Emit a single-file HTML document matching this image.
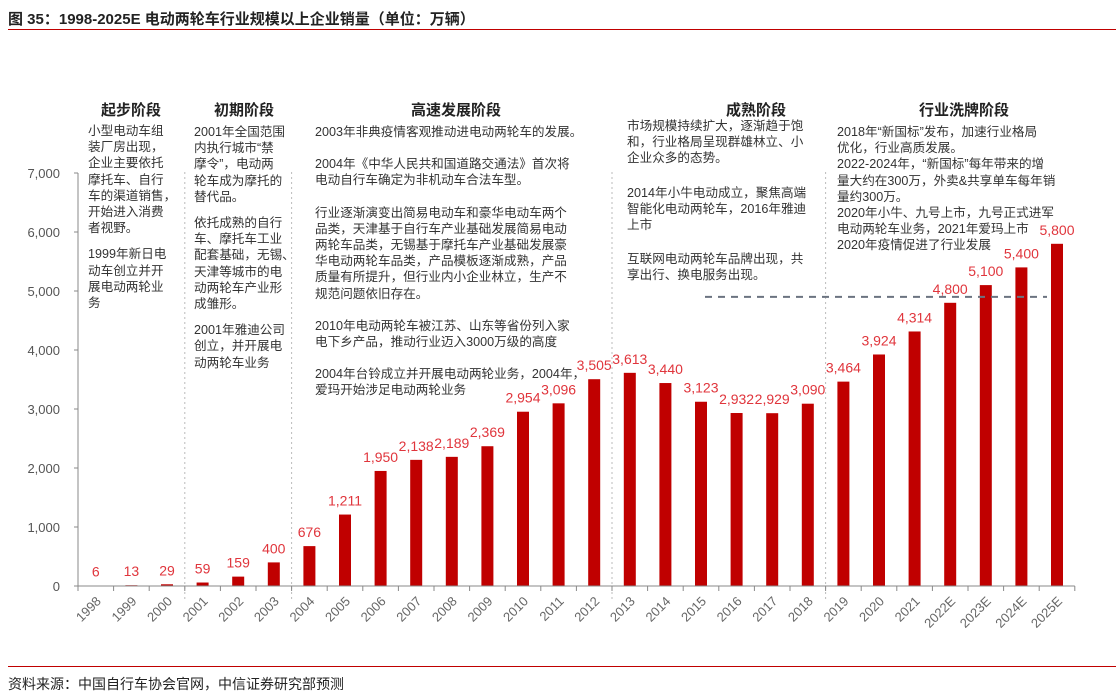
<!DOCTYPE html>
<html><head><meta charset="utf-8"><style>
body{margin:0;width:1116px;height:695px;background:#fff;position:relative;overflow:hidden;font-family:"Liberation Sans","Noto Sans CJK SC",sans-serif;}
.t{position:absolute;font-size:12.6px;line-height:16.2px;color:#333;white-space:nowrap;}
.t p{margin:0 0 10px 0}
.h{position:absolute;font-size:15px;font-weight:bold;color:#222;transform:translateX(-50%);white-space:nowrap}
</style></head><body>
<div style="position:absolute;left:8px;top:8px;font-size:15px;font-weight:bold;color:#222;">图 35：1998-2025E 电动两轮车行业规模以上企业销量（单位：万辆）</div>
<div style="position:absolute;left:8px;top:29px;width:1108px;height:1px;background:#c00000"></div>
<svg id="chart" width="1116" height="660" style="position:absolute;left:0;top:0"></svg>

<div class="h" style="left:131px;top:99px">起步阶段</div>
<div class="h" style="left:244px;top:99px">初期阶段</div>
<div class="h" style="left:456px;top:99px">高速发展阶段</div>
<div class="h" style="left:756px;top:99px">成熟阶段</div>
<div class="h" style="left:964px;top:99px">行业洗牌阶段</div>

<div class="t" style="left:88px;top:123px"><p>小型电动车组<br>装厂房出现，<br>企业主要依托<br>摩托车、自行<br>车的渠道销售，<br>开始进入消费<br>者视野。</p><p>1999年新日电<br>动车创立并开<br>展电动两轮业<br>务</p></div>
<div class="t" style="left:194px;top:124px"><p>2001年全国范围<br>内执行城市“禁<br>摩令”，电动两<br>轮车成为摩托的<br>替代品。</p><p>依托成熟的自行<br>车、摩托车工业<br>配套基础，无锡、<br>天津等城市的电<br>动两轮车产业形<br>成雏形。</p><p>2001年雅迪公司<br>创立，并开展电<br>动两轮车业务</p></div>
<div class="t" style="left:315px;top:124px"><p style="margin-bottom:16px">2003年非典疫情客观推动进电动两轮车的发展。</p><p style="margin-bottom:16px">2004年《中华人民共和国道路交通法》首次将<br>电动自行车确定为非机动车合法车型。</p><p style="margin-bottom:16px">行业逐渐演变出简易电动车和豪华电动车两个<br>品类，天津基于自行车产业基础发展简易电动<br>两轮车品类，无锡基于摩托车产业基础发展豪<br>华电动两轮车品类，产品模板逐渐成熟，产品<br>质量有所提升，但行业内小企业林立，生产不<br>规范问题依旧存在。</p><p style="margin-bottom:16px">2010年电动两轮车被江苏、山东等省份列入家<br>电下乡产品，推动行业迈入3000万级的高度</p><p>2004年台铃成立并开展电动两轮业务，2004年，<br>爱玛开始涉足电动两轮业务</p></div>
<div class="t" style="left:627px;top:118px"><p style="margin-bottom:18px">市场规模持续扩大，逐渐趋于饱<br>和，行业格局呈现群雄林立、小<br>企业众多的态势。</p><p style="margin-bottom:18px">2014年小牛电动成立，聚焦高端<br>智能化电动两轮车，2016年雅迪<br>上市</p><p>互联网电动两轮车品牌出现，共<br>享出行、换电服务出现。</p></div>
<div class="t" style="left:837px;top:124px"><p style="margin:0">2018年“新国标”发布，加速行业格局<br>优化，行业高质发展。<br>2022-2024年，“新国标”每年带来的增<br>量大约在300万，外卖&amp;共享单车每年销<br>量约300万。<br>2020年小牛、九号上市，九号正式进军<br>电动两轮车业务，2021年爱玛上市<br>2020年疫情促进了行业发展</p></div>

<div style="position:absolute;left:8px;top:666px;width:1108px;height:1px;background:#c00000"></div>
<div style="position:absolute;left:8px;top:674px;font-size:14px;color:#222">资料来源：中国自行车协会官网，中信证券研究部预测</div>

<script>
const categories=["1998","1999","2000","2001","2002","2003","2004","2005","2006","2007","2008","2009","2010","2011","2012","2013","2014","2015","2016","2017","2018","2019","2020","2021","2022E","2023E","2024E","2025E"];
const salesValues=[6,13,29,59,159,400,676,1211,1950,2138,2189,2369,2954,3096,3505,3613,3440,3123,2932,2929,3090,3464,3924,4314,4800,5100,5400,5800];
const yTicks=[0,1000,2000,3000,4000,5000,6000,7000];
const yTickLabels=["0","1,000","2,000","3,000","4,000","5,000","6,000","7,000"];
const stageBoundaries=[3,6,15,21];
const referenceLevel=4900;

const svg=document.getElementById('chart');
const NS='http://www.w3.org/2000/svg';
const x0=78,band=35.6,y0=586,pxPer=413/7000,bw=12;
const xs=i=>x0+band*i+band/2;
const ys=v=>y0-v*pxPer;
function mk(t,a){const e=document.createElementNS(NS,t);for(const k in a)e.setAttribute(k,a[k]);svg.appendChild(e);return e;}

yTicks.forEach((v,i)=>{
  const tx=mk('text',{x:60,y:ys(v)+5,'text-anchor':'end','font-size':'13','fill':'#555'});
  
  
  tx.textContent=yTickLabels[i];
  const tk=mk('line',{x1:74,x2:78,y1:ys(v),y2:ys(v),stroke:'#888'});
  
  
});
const ya=mk('line',{x1:78,x2:78,y1:ys(7000),y2:y0,stroke:'#888'});



stageBoundaries.forEach(b=>{
  const l=mk('line',{x1:x0+band*b,x2:x0+band*b,y1:172,y2:600,stroke:'#bbb','stroke-dasharray':'2,3'});
  
  
});

salesValues.forEach((v,i)=>{
  const r=mk('rect',{x:xs(i)-bw/2,y:ys(v),width:bw,height:y0-ys(v),fill:'#c00000'});
  
  
  const t=mk('text',{x:xs(i),y:ys(v)-9,'text-anchor':'middle','font-size':'14','fill':'#e0353c'});
  
  
  t.textContent=v.toLocaleString('en-US');
  const c=mk('text',{x:xs(i)+6,y:602,'text-anchor':'end','font-size':'13','fill':'#666',transform:`rotate(-45 ${xs(i)+6} 602)`});
  
  
  c.textContent=categories[i];
});
for(let i=0;i<=categories.length;i++){
  const tk=mk('line',{x1:x0+band*i,x2:x0+band*i,y1:y0,y2:y0+5,stroke:'#888'});
  
  
}
const xa=mk('line',{x1:x0,x2:x0+band*categories.length,y1:y0,y2:y0,stroke:'#888'});



const ref=mk('line',{x1:xs(17)+4,x2:xs(27)-10,y1:ys(referenceLevel),y2:ys(referenceLevel),stroke:'#6b7380','stroke-width':2,'stroke-dasharray':'7,6'});


</script>
</body></html>
